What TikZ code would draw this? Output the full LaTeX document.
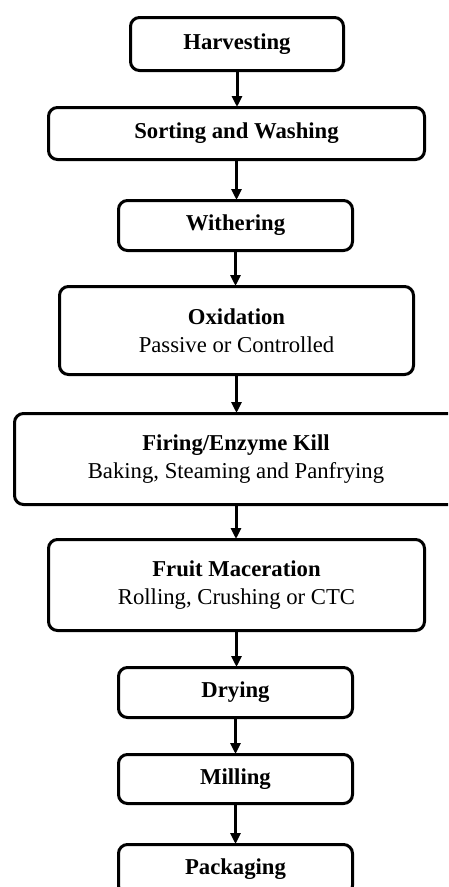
\documentclass[tikz,border=0pt]{standalone}
\usepackage{fontspec}
\setmainfont{Liberation Serif}
\usetikzlibrary{arrows.meta,positioning}
\begin{document}
\begin{tikzpicture}[x=1pt,y=-1pt,>={Triangle[length=11pt,width=10pt]},
stage/.style={draw,line width=3pt,rounded corners=9pt,align=center,inner sep=0pt,font=\fontsize{22.7}{28}\selectfont},
flow/.style={->,line width=3pt,shorten >=-1pt}]
\useasboundingbox(0,0)rectangle(448,887);
\clip(0,0)rectangle(448,887);
\node[stage,minimum width=213pt,minimum height=53pt](harv)at(237,44){\textbf{Harvesting}};
\node[stage,minimum width=376pt,minimum height=52pt](sort)at(236.5,133.5){\textbf{Sorting and Washing}};
\node[stage,minimum width=234pt,minimum height=50pt](with)at(235.5,225.5){\textbf{Withering}};
\node[stage,minimum width=354pt,minimum height=88pt](oxid)at(236.5,330.5){\textbf{Oxidation}\\Passive or Controlled};
\node[stage,minimum width=443pt,minimum height=91pt](fire)at(236,459){\textbf{Firing/Enzyme Kill}\\Baking, Steaming and Panfrying};
\node[stage,minimum width=376pt,minimum height=91pt](fruit)at(236.5,585){\textbf{Fruit Maceration}\\Rolling, Crushing or CTC};
\node[stage,minimum width=234pt,minimum height=50pt](dry)at(235.5,692.5){\textbf{Drying}};
\node[stage,minimum width=234pt,minimum height=49pt](mill)at(235.5,779){\textbf{Milling}};
\node[stage,minimum width=234pt,minimum height=50pt](pack)at(235.5,869.5){\textbf{Packaging}};
\draw[flow](harv.south)--(harv.south|-sort.north);
\draw[flow](sort.south)--(sort.south|-with.north);
\draw[flow](with.south)--(with.south|-oxid.north);
\draw[flow](oxid.south)--(oxid.south|-fire.north);
\draw[flow](fire.south)--(fire.south|-fruit.north);
\draw[flow](fruit.south)--(fruit.south|-dry.north);
\draw[flow](dry.south)--(dry.south|-mill.north);
\draw[flow](mill.south)--(mill.south|-pack.north);
\end{tikzpicture}
\end{document}
